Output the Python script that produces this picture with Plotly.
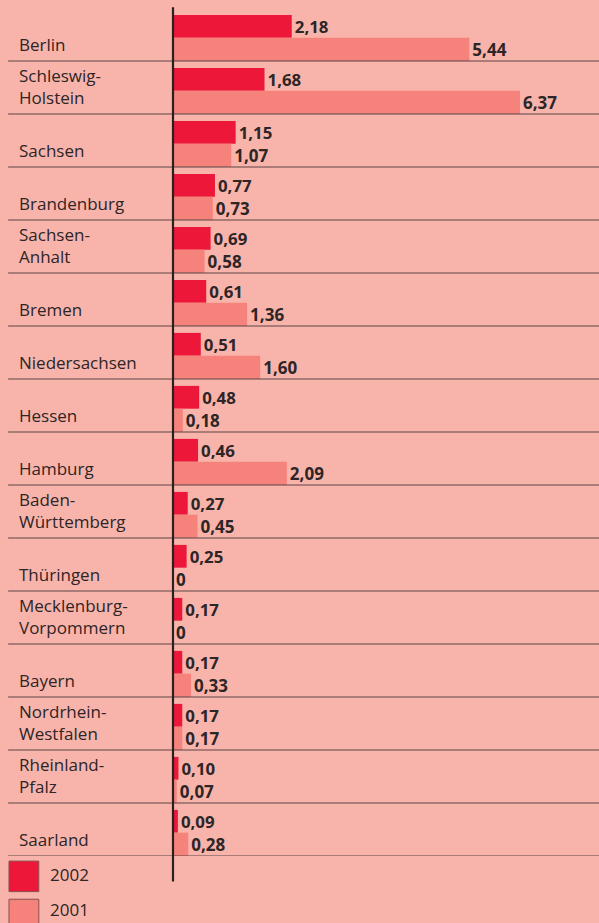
import plotly.graph_objects as go

laender = ["Berlin", "Schleswig-<br>Holstein", "Sachsen", "Brandenburg", "Sachsen-<br>Anhalt",
           "Bremen", "Niedersachsen", "Hessen", "Hamburg", "Baden-<br>Württemberg", "Thüringen",
           "Mecklenburg-<br>Vorpommern", "Bayern", "Nordrhein-<br>Westfalen", "Rheinland-<br>Pfalz",
           "Saarland"]
werte_2002 = [2.18, 1.68, 1.15, 0.77, 0.69, 0.61, 0.51, 0.48, 0.46, 0.27, 0.25, 0.17, 0.17, 0.17, 0.10, 0.09]
werte_2001 = [5.44, 6.37, 1.07, 0.73, 0.58, 1.36, 1.60, 0.18, 2.09, 0.45, 0, 0, 0.33, 0.17, 0.07, 0.28]
jahre = ["2002", "2001"]

BG = "#f8b4ab"
ROT = "#ec1739"
LACHS = "#f5837b"
TEXT = "#2d2526"
LINIE = "#5a4444"
FONT = "Open Sans"


def fmt(v):
    return "0" if v == 0 else f"{v:.2f}".replace(".", ",")


pos = list(range(len(laender)))

fig = go.Figure()

fig.add_trace(go.Bar(
    y=pos, x=werte_2002, orientation="h", name=jahre[0],
    marker=dict(color=ROT, line=dict(width=0)),
    offset=0.13, width=0.43,
    text=[fmt(v) for v in werte_2002], textposition="outside",
    textfont=dict(family=FONT, size=17, color=TEXT, weight="bold"),
    cliponaxis=False,
))
fig.add_trace(go.Bar(
    y=pos, x=werte_2001, orientation="h", name=jahre[1],
    marker=dict(color=LACHS, line=dict(width=0)),
    offset=0.56, width=0.44,
    text=[fmt(v) for v in werte_2001], textposition="outside",
    textfont=dict(family=FONT, size=17, color=TEXT, weight="bold"),
    cliponaxis=False,
))

# Ländernamen links
for i, name in enumerate(laender):
    n = name.count("<br>")
    fig.add_annotation(
        x=-0.366, xref="paper", y=i + 0.69 - n * 0.2, yref="y",
        text=name, showarrow=False, xanchor="left", yanchor="middle", align="left",
        font=dict(family=FONT, size=17, color=TEXT),
    )
    # Trennlinien
    fig.add_shape(type="line", xref="paper", yref="y",
                  x0=-0.387, x1=1, y0=i + 1, y1=i + 1,
                  line=dict(color=LINIE, width=1.2), layer="above")

# senkrechte Achse
fig.add_shape(type="line", xref="paper", yref="paper", x0=0, x1=0, y0=1.001, y1=-0.03,
              line=dict(color="#2a2020", width=2.2), layer="above")

# Legende
for k, (farbe, jahr) in enumerate(zip([ROT, LACHS], jahre)):
    y_top = -0.006 - k * 0.045
    fig.add_shape(type="rect", xref="paper", yref="paper",
                  x0=-0.385, x1=-0.315, y0=y_top, y1=y_top - 0.036,
                  fillcolor=farbe, line=dict(color="#8a4f4f", width=1))
    fig.add_annotation(x=-0.294, xref="paper", y=y_top - 0.016 + k * 0.004, yref="paper",
                       text=jahr, showarrow=False, xanchor="left", yanchor="middle",
                       font=dict(family=FONT, size=17, color=TEXT))

fig.update_layout(
    width=599, height=923,
    margin=dict(l=173, r=0, t=8, b=67),
    paper_bgcolor=BG, plot_bgcolor=BG,
    showlegend=False,
    barmode="overlay",
    xaxis=dict(range=[0, 7.82], visible=False),
    yaxis=dict(range=[len(laender), 0], visible=False),
)

fig.write_html("out.html", config={"displayModeBar": False},
               post_script="document.body.style.margin='0';")
